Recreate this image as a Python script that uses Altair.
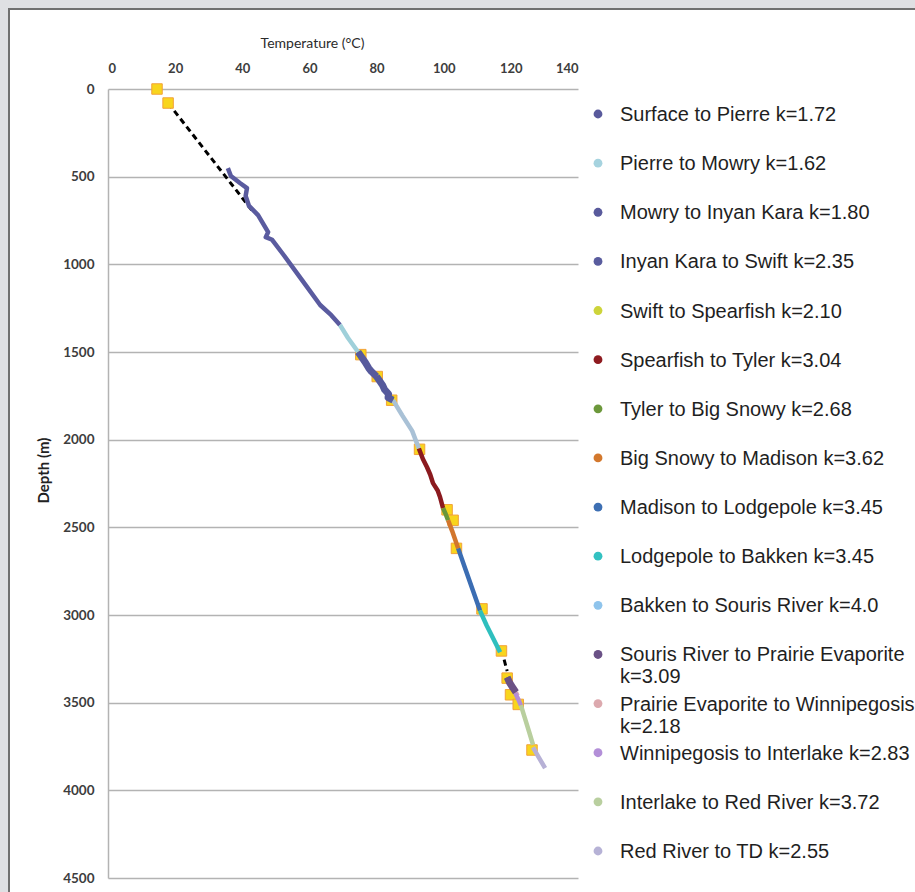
import altair as alt
import pandas as pd

# Formation intervals listed in the key, shallowest first
series_names = [
    "Surface to Pierre k=1.72",
    "Pierre to Mowry k=1.62",
    "Mowry to Inyan Kara k=1.80",
    "Inyan Kara to Swift k=2.35",
    "Swift to Spearfish k=2.10",
    "Spearfish to Tyler k=3.04",
    "Tyler to Big Snowy k=2.68",
    "Big Snowy to Madison k=3.62",
    "Madison to Lodgepole k=3.45",
    "Lodgepole to Bakken k=3.45",
    "Bakken to Souris River k=4.0",
    "Souris River to Prairie Evaporite k=3.09",
    "Prairie Evaporite to Winnipegosis k=2.18",
    "Winnipegosis to Interlake k=2.83",
    "Interlake to Red River k=3.72",
    "Red River to TD k=2.55",
]
key_colors = [
    "#595a9c", "#a6d3df", "#595a9c", "#595c9e", "#cdd43a", "#8e1b20",
    "#6c983b", "#d3782d", "#3d6fb3", "#33c1c1", "#8fc4ec", "#6a5186",
    "#dca9ae", "#b38fd8", "#b9cf9f", "#b6b2d6",
]
# colour each interval is drawn with along the profile
line_colors = [
    "#5a5b9f", "#9fd0da", "#575a9d", "#55599c", "#a9c1d6", "#8b1a1f",
    "#6a973a", "#d2762d", "#3b6db3", "#2fbfbe", "#8dc3ec", "#6b5185",
    "#dba9ae", "#b38dd6", "#b9cf9e", "#b7b1d6",
]

# temperature (deg C) / depth (m) along each interval
surface_pierre_t = [35.7, 36.6, 39.3, 41.4, 41.0, 42.0, 44.7, 47.7, 47.0, 48.9, 52.1, 57.8, 63.2, 66.5, 69.1]
surface_pierre_d = [451, 496, 536, 565, 610, 667, 719, 816, 845, 860, 941, 1090, 1232, 1290, 1346]
pierre_mowry_t = [69.1, 71.5, 74.5]
pierre_mowry_d = [1346, 1420, 1500]
mowry_inyan_t = [74.5, 76.5, 77.6, 78.4, 80.0]
mowry_inyan_d = [1500, 1555, 1590, 1610, 1640]
inyan_swift_t = [80.0, 81.8, 82.4, 83.6, 83.4, 84.9]
inyan_swift_d = [1640, 1690, 1715, 1740, 1760, 1774]
swift_spearfish_t = [84.9, 87.6, 90.6, 92.6]
swift_spearfish_d = [1774, 1860, 1950, 2050]
spearfish_tyler_t = [92.6, 93.8, 95.0, 96.0, 96.8, 98.2, 98.9, 99.8]
spearfish_tyler_d = [2050, 2110, 2156, 2200, 2248, 2290, 2327, 2390]
tyler_snowy_t = [99.8, 100.6, 101.3]
tyler_snowy_d = [2390, 2425, 2460]
snowy_madison_t = [101.3, 102.5, 103.4, 104.3]
snowy_madison_d = [2460, 2520, 2570, 2620]
madison_lodgepole_t = [104.3, 106.5, 108.7, 110.8]
madison_lodgepole_d = [2620, 2740, 2860, 2975]
lodgepole_bakken_t = [110.8, 112.8, 114.9, 116.8]
lodgepole_bakken_d = [2975, 3060, 3140, 3212]
souris_prairie_t = [118.9, 119.6, 120.6, 121.5]
souris_prairie_d = [3355, 3385, 3415, 3440]
prairie_winnipegosis_t = [121.5, 122.0]
prairie_winnipegosis_d = [3440, 3460]
winnipegosis_interlake_t = [121.3, 122.2, 123.0]
winnipegosis_interlake_d = [3445, 3480, 3515]
interlake_redriver_t = [123.0, 124.2, 125.5, 126.6]
interlake_redriver_d = [3515, 3590, 3670, 3740]
redriver_td_t = [126.6, 128.4, 130.2]
redriver_td_d = [3755, 3815, 3873]

# extrapolated stretches (dashed)
gap_upper_t = [17.9, 42.8]
gap_upper_d = [80, 690]
gap_lower_t = [118.0, 118.9]
gap_lower_d = [3255, 3320]

# measured temperatures (squares)
meas_t = [14.6, 17.9, 75.3, 80.2, 84.5, 92.8, 101.0, 102.8, 103.8, 111.4, 117.2, 118.9, 119.9, 122.2, 126.3]
meas_d = [0, 80, 1515, 1640, 1775, 2055, 2400, 2460, 2620, 2965, 3205, 3360, 3455, 3510, 3770]

drawn = [
    (series_names[0], surface_pierre_t, surface_pierre_d),
    (series_names[1], pierre_mowry_t, pierre_mowry_d),
    (series_names[2], mowry_inyan_t, mowry_inyan_d),
    (series_names[3], inyan_swift_t, inyan_swift_d),
    (series_names[4], swift_spearfish_t, swift_spearfish_d),
    (series_names[5], spearfish_tyler_t, spearfish_tyler_d),
    (series_names[6], tyler_snowy_t, tyler_snowy_d),
    (series_names[7], snowy_madison_t, snowy_madison_d),
    (series_names[8], madison_lodgepole_t, madison_lodgepole_d),
    (series_names[9], lodgepole_bakken_t, lodgepole_bakken_d),
    (series_names[11], souris_prairie_t, souris_prairie_d),
    (series_names[12], prairie_winnipegosis_t, prairie_winnipegosis_d),
    (series_names[13], winnipegosis_interlake_t, winnipegosis_interlake_d),
    (series_names[14], interlake_redriver_t, interlake_redriver_d),
    (series_names[15], redriver_td_t, redriver_td_d),
]
rows = []
for name, ts, ds in drawn:
    for i, (t, d) in enumerate(zip(ts, ds)):
        rows.append({"series": name, "idx": i, "temp": t, "depth": d})
profile = pd.DataFrame(rows)

gap_rows = []
for g, (ts, ds) in enumerate([(gap_upper_t, gap_upper_d), (gap_lower_t, gap_lower_d)]):
    for i, (t, d) in enumerate(zip(ts, ds)):
        gap_rows.append({"gap": g, "idx": i, "temp": t, "depth": d})
gaps = pd.DataFrame(gap_rows)

measured = pd.DataFrame({"temp": meas_t, "depth": meas_d})

def key_label(name):
    return name.replace(" k=", "\nk=") if len(name) > 32 else name

key = pd.DataFrame({
    "series": series_names,
    "label": [key_label(n) for n in series_names],
})

FONT_AX = "Lato"
x_scale = alt.Scale(domain=[0, 140], nice=False, zero=False)
y_scale = alt.Scale(domain=[0, 4500], reverse=True, nice=False, zero=False)

x_axis = alt.Axis(
    orient="top", values=list(range(0, 141, 20)), grid=False, ticks=False,
    domain=False, labelFont=FONT_AX, labelFontSize=13, labelFontWeight="bold",
    labelColor="#3d3d3d", labelPadding=14, labelOverlap=False,
    title="Temperature (°C)", titleFont=FONT_AX, titleFontSize=14,
    titleFontWeight="normal", titleColor="#2b2b2b", titleX=204, titleY=-46,
    titleBaseline="middle",
)
y_axis = alt.Axis(
    values=list(range(0, 4501, 500)), grid=True, gridColor="#b3b3b3",
    gridWidth=1.5, ticks=False, domain=True, domainColor="#b3b3b3",
    domainWidth=1.5, labelFont=FONT_AX, labelFontSize=13.5,
    labelFontWeight="bold", labelColor="#3d3d3d", labelPadding=14,
    labelOverlap=False, format="d",
    title="Depth (m)", titleFont=FONT_AX, titleFontSize=15,
    titleFontWeight="bold", titleColor="#222222", titleX=-57, titleY=381,
)

# shared temperature encoding (same axis on every layer so it merges cleanly)
def temp_x():
    return alt.X("temp:Q", scale=x_scale, axis=x_axis)

def depth_y(with_axis=False):
    return alt.Y("depth:Q", scale=y_scale, axis=y_axis if with_axis else None)

# page frame: grey margin on the outside, thin dark border line inside it
one = pd.DataFrame({"f": [0]})
margin = alt.Chart(one).mark_rect(
    fillOpacity=0, stroke="#dfe0e3", strokeWidth=16
).encode(x=alt.value(-108), x2=alt.value(840), y=alt.value(-89), y2=alt.value(840))
border = alt.Chart(one).mark_rect(
    fillOpacity=0, stroke="#707070", strokeWidth=2
).encode(x=alt.value(-99), x2=alt.value(830), y=alt.value(-80), y2=alt.value(830))

gap_lines = alt.Chart(gaps).mark_line(
    color="black", strokeDash=[6, 4], strokeWidth=3
).encode(x=temp_x(), y=depth_y(True), detail="gap:N", order="idx:Q")

squares = alt.Chart(measured).mark_square(
    size=110, filled=True, color="#f8d51d", stroke="#f2a23a", strokeWidth=1, opacity=1
).encode(x=temp_x(), y=depth_y())

drawn_names = [d[0] for d in drawn]
drawn_colors = [line_colors[series_names.index(n)] for n in drawn_names]
seg_color = alt.Color(
    "series:N", scale=alt.Scale(domain=drawn_names, range=drawn_colors), legend=None
)

segments = alt.Chart(profile).mark_line(strokeWidth=4.5, strokeJoin="round").encode(
    x=temp_x(), y=depth_y(), color=seg_color, detail="series:N", order="idx:Q"
)

thick_names = [series_names[2], series_names[3], series_names[11]]
thick = alt.Chart(profile).transform_filter(
    alt.FieldOneOfPredicate(field="series", oneOf=thick_names)
).mark_line(strokeWidth=7, strokeJoin="round").encode(
    x=temp_x(), y=depth_y(), color=seg_color, detail="series:N", order="idx:Q"
)

key_y = alt.Y(
    "series:N", sort=series_names, axis=None,
    scale=alt.Scale(type="point", domain=series_names, range=[25, 762], padding=0),
)
key_dots = alt.Chart(key).mark_circle(size=78, opacity=1).encode(
    x=alt.value(490),
    y=key_y,
    color=alt.Color("series:N", scale=alt.Scale(domain=series_names, range=key_colors), legend=None),
)
key_text = alt.Chart(key).mark_text(
    align="left", baseline="alphabetic", dy=7, font="Liberation Sans",
    fontSize=20, color="#1f1f1f", lineBreak="\n", lineHeight=22,
).encode(x=alt.value(512), y=key_y, text="label:N")

chart = alt.layer(
    gap_lines, squares, segments, thick, key_dots, key_text, margin, border
).resolve_scale(
    y="independent", color="independent"
).properties(
    width=470, height=789,
    autosize=alt.AutoSizeParams(type="none"),
    padding={"left": 108, "top": 89, "right": 337, "bottom": 14},
    background="white",
).configure_view(stroke=None)

chart.save("out.html", embed_options={"renderer": "svg", "actions": False})
